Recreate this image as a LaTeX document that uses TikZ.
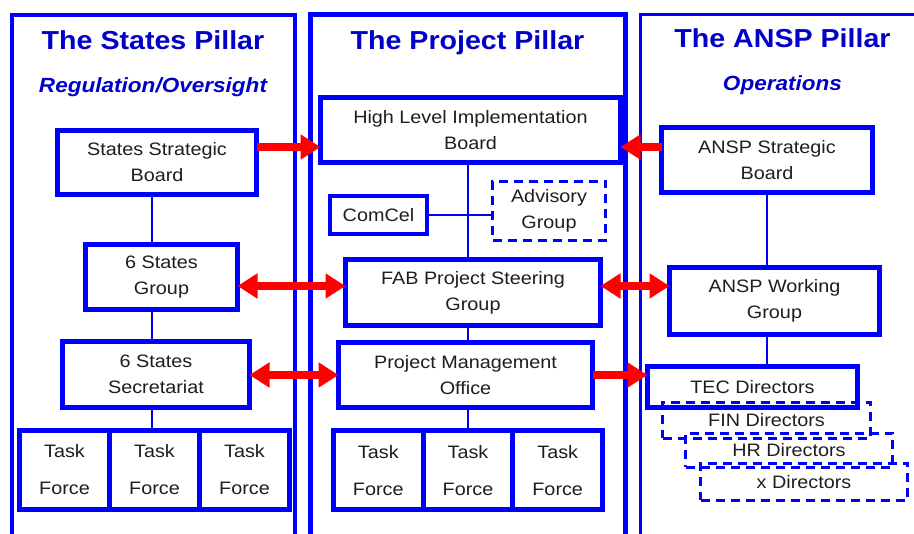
\documentclass[tikz,border=0pt]{standalone}
\usepackage{fontspec}
\setmainfont[FakeStretch=1.1]{Liberation Sans}
\usetikzlibrary{arrows.meta}

\definecolor{pillarblue}{RGB}{0,0,255}
\definecolor{titleblue}{RGB}{0,0,200}
\definecolor{txtgray}{RGB}{30,30,30}

\tikzset{
  box/.style={draw=pillarblue, line width=5pt, fill=white, outer sep=0pt, inner sep=0pt,
    align=center, text=txtgray, font=\fontsize{18}{26}\selectfont},
  tfbox/.style={box, minimum height=79pt, font=\fontsize{18}{37}\selectfont},
  dashbox/.style={box, line width=3pt, dash pattern=on 9pt off 6pt, fill=none},
  link/.style={draw=pillarblue, line width=2pt},
  title/.style={text=titleblue, font=\fontsize{26}{30}\selectfont\bfseries, anchor=base},
  subtitle/.style={text=titleblue, font=\fontsize{20.5}{24}\selectfont\bfseries\itshape, anchor=base},
  bigarrow/.style={draw=red, line width=8pt, -{Triangle[length=20pt,width=24pt]}},
  bigarrows/.style={draw=red, line width=8pt, {Triangle[length=20pt,width=24pt]}-{Triangle[length=20pt,width=24pt]}}
}

\begin{document}
\begin{tikzpicture}[x=1pt, y=-1pt]
\useasboundingbox (0,0) rectangle (914,534);
\clip (0,0) rectangle (914,534);

% the three pillars
\draw[draw=pillarblue, line width=4pt] (11.5,560) -- (11.5,15) -- (295,15) -- (295,560);
\draw[draw=pillarblue, line width=5pt] (310,560) -- (310,15) -- (625,15) -- (625,560);
\draw[draw=pillarblue, line width=3pt] (640,560) -- (640,15) -- (930,15);

\node[title] (statestitle) at (153,50) {The States Pillar};
\node[subtitle] (statessub) at (153,93) {Regulation/Oversight};
\node[title] (projecttitle) at (467.5,50) {The Project Pillar};
\node[title] (ansptitle) at (782.5,48) {The ANSP Pillar};
\node[subtitle] (anspsub) at (782.5,91) {Operations};

\coordinate (lspine) at (152,0);
\coordinate (mspine) at (468,0);
\coordinate (rspine) at (767,0);

% States pillar
\node[box, minimum width=199pt, minimum height=64pt] (ssb) at (157,162.5) {States Strategic\\Board};
\node[box, minimum width=152pt, minimum height=65pt] (sgroup) at (161.5,277) {6 States\\Group};
\node[box, minimum width=187pt, minimum height=66pt] (ssec) at (156,374.5) {6 States\\Secretariat};
\node[tfbox, minimum width=90pt] (tfl1) at (64.5,470) {Task\\Force};
\node[tfbox, minimum width=90pt] (tfl2) at (154.5,470) {Task\\Force};
\node[tfbox, minimum width=90pt] (tfl3) at (244.5,470) {Task\\Force};

\draw[link] (ssb.south -| lspine) -- (sgroup.north -| lspine);
\draw[link] (sgroup.south -| lspine) -- (ssec.north -| lspine);
\draw[link] (ssec.south -| lspine) -- (tfl2.north -| lspine);

% Project pillar
\node[box, minimum width=300pt, minimum height=65pt] (hlib) at (470.5,130) {High Level Implementation\\Board};
\node[box, line width=4pt, minimum width=97pt, minimum height=38pt] (comcel) at (378.5,215) {ComCel};
\node[dashbox, minimum width=113pt, minimum height=59pt] (advisory) at (549,211) {Advisory\\Group};
\node[box, minimum width=255pt, minimum height=66pt] (fab) at (473,292.5) {FAB Project Steering\\Group};
\node[box, minimum width=254pt, minimum height=65pt] (pmo) at (465.5,375) {Project Management\\Office};
\node[tfbox, minimum width=89.7pt] (tfm1) at (378.3,470.5) {Task\\Force};
\node[tfbox, minimum width=89.7pt] (tfm2) at (468,470.5) {Task\\Force};
\node[tfbox, minimum width=89.7pt] (tfm3) at (557.7,470.5) {Task\\Force};

\draw[link] (hlib.south -| mspine) -- (fab.north -| mspine);
\draw[link] (comcel.east) -- (comcel.east -| advisory.west);
\draw[link] (fab.south -| mspine) -- (pmo.north -| mspine);
\draw[link] (pmo.south -| mspine) -- (tfm2.north -| mspine);

% ANSP pillar
\node[box, minimum width=211pt, minimum height=65pt] (asb) at (767,160) {ANSP Strategic\\Board};
\node[box, minimum width=210pt, minimum height=67pt] (awg) at (774.5,301) {ANSP Working\\Group};
\node[box, minimum width=210pt, minimum height=41pt] (tec) at (752.5,387) {TEC Directors};
\node[dashbox, minimum width=208pt, minimum height=36pt] (fin) at (766.5,420.5) {FIN Directors};
\node[dashbox, minimum width=207pt, minimum height=34pt] (hr) at (789,450.5) {HR Directors};
\node[dashbox, minimum width=207pt, minimum height=37pt] (xdir) at (804,482) {x Directors};

\draw[link] (asb.south -| rspine) -- (awg.north -| rspine);
\draw[link] (awg.south -| rspine) -- (tec.north -| rspine);

% red arrows between the pillars
\coordinate (row1) at (0,147);
\coordinate (row2) at (0,286);
\coordinate (row3) at (0,375);
\draw[bigarrow] (ssb.east |- row1) -- (hlib.west |- row1);
\draw[bigarrow] (asb.west |- row1) -- (hlib.east |- row1);
\draw[bigarrows] (sgroup.east |- row2) -- (fab.west |- row2);
\draw[bigarrows] (fab.east |- row2) -- (awg.west |- row2);
\draw[bigarrows] (ssec.east |- row3) -- (pmo.west |- row3);
\draw[bigarrow] (pmo.east |- row3) -- (tec.west |- row3);
\end{tikzpicture}
\end{document}
